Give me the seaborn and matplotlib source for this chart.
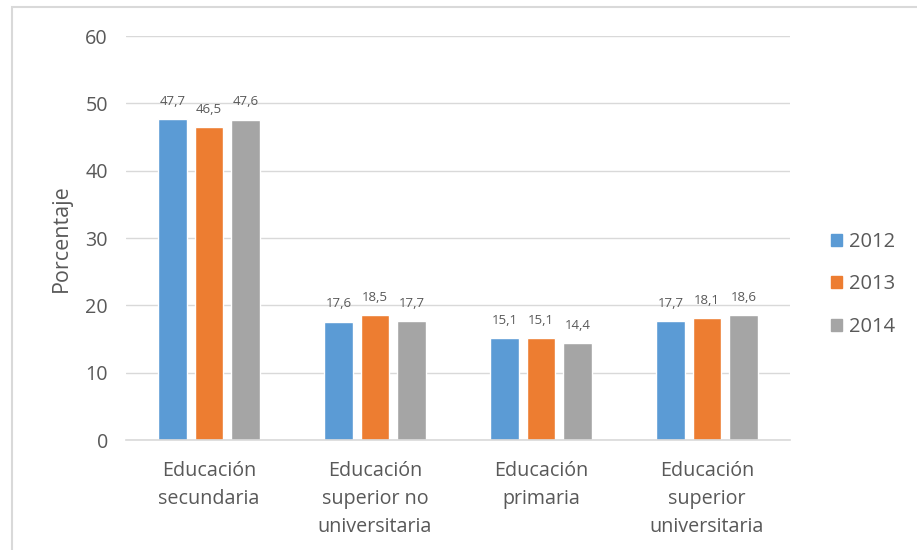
import matplotlib
matplotlib.use("Agg")
import matplotlib.pyplot as plt
import matplotlib.patches as mpatches
import seaborn as sns
import pandas as pd

# Education level categories and yearly percentages
categories = [
    "Educación\nsecundaria",
    "Educación\nsuperior no\nuniversitaria",
    "Educación\nprimaria",
    "Educación\nsuperior\nuniversitaria",
]
years = ["2012", "2013", "2014"]
values_2012 = [47.7, 17.6, 15.1, 17.7]
values_2013 = [46.5, 18.5, 15.1, 18.1]
values_2014 = [47.6, 17.7, 14.4, 18.6]
y_ticks = [0, 10, 20, 30, 40, 50, 60]

colors = ["#5B9BD5", "#ED7D31", "#A5A5A5"]
text_color = "#595959"
grid_color = "#D9D9D9"

df = pd.DataFrame({
    "categoria": categories * 3,
    "anio": [y for y in years for _ in categories],
    "valor": values_2012 + values_2013 + values_2014,
})

sns.set_theme(style="white")
plt.rcParams["font.family"] = ["Open Sans", "DejaVu Sans"]

fig = plt.figure(figsize=(9.17, 5.5), dpi=100)
ax = fig.add_axes([0.1374, 0.2, 0.7241, 0.7345])

sns.barplot(
    data=df, x="categoria", y="valor", hue="anio",
    order=categories, hue_order=years, palette=colors,
    width=0.66, gap=0.23, saturation=1, legend=False, ax=ax,
    errorbar=None,
)

for container in ax.containers:
    ax.bar_label(
        container,
        fmt=lambda v: f"{v:.1f}".replace(".", ","),
        padding=8, fontsize=9.5, color=text_color,
    )

ax.set_xlim(-0.5, len(categories) - 0.5)
ax.set_ylim(0, 60)
ax.set_yticks(y_ticks)
ax.set_yticklabels([str(t) for t in y_ticks], fontsize=14.2, color=text_color)
ax.tick_params(axis="y", length=0, pad=13)
ax.tick_params(axis="x", length=0, pad=15, labelsize=14.2, labelcolor=text_color)
for lbl in ax.get_xticklabels():
    lbl.set_linespacing(1.55)

ax.yaxis.grid(True, color=grid_color, linewidth=1)
ax.set_axisbelow(True)
for side in ["top", "right", "left"]:
    ax.spines[side].set_visible(False)
ax.spines["bottom"].set_color(grid_color)
ax.spines["bottom"].set_linewidth(1.2)

ax.set_xlabel("")
ax.set_ylabel("Porcentaje", fontsize=15.5, color=text_color, labelpad=10)

handles = [mpatches.Patch(color=c, label=y) for c, y in zip(colors, years)]
fig.legend(
    handles=handles, loc="center left", bbox_to_anchor=(0.886, 0.483),
    frameon=False, fontsize=14.5, labelcolor=text_color,
    handlelength=0.55, handleheight=0.55, handletextpad=0.35,
    labelspacing=1.12,
)

# Chart frame (top and left edges visible)
frame = mpatches.Rectangle(
    (12 / 917, -0.05), 1.2, 1 - 7 / 550 + 0.05,
    transform=fig.transFigure, fill=False,
    edgecolor=grid_color, linewidth=1.5, clip_on=False,
)
fig.patches.append(frame)

fig.savefig("out.png", dpi=100)
